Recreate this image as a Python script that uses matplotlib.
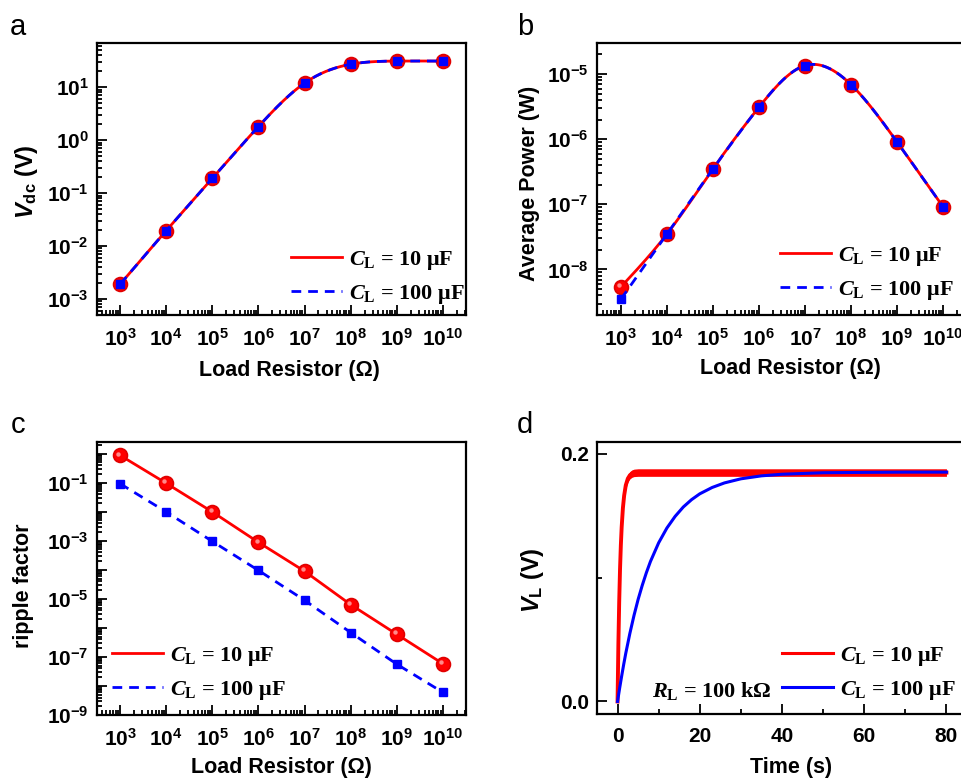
import numpy as np
import matplotlib
matplotlib.use("Agg")
import matplotlib.pyplot as plt
from matplotlib.lines import Line2D
from matplotlib.transforms import ScaledTranslation
from matplotlib.ticker import LogLocator, FixedLocator, NullFormatter, FuncFormatter, MultipleLocator, FormatStrFormatter

# ---------------- data ----------------
R_load = [1e3, 1e4, 1e5, 1e6, 1e7, 1e8, 1e9, 1e10]

vdc_10uF = [1.9e-3, 1.95e-2, 0.19, 1.8, 11.9, 27.0, 31.0, 31.0]
vdc_100uF = [1.9e-3, 1.95e-2, 0.19, 1.8, 11.9, 27.0, 31.0, 31.0]

power_10uF = [5.4e-9, 3.5e-8, 3.5e-7, 3.1e-6, 1.35e-5, 6.9e-6, 9.1e-7, 9.2e-8]
power_100uF = [3.5e-9, 3.5e-8, 3.5e-7, 3.1e-6, 1.35e-5, 6.9e-6, 9.1e-7, 9.2e-8]

ripple_10uF = [0.87, 0.095, 9.8e-3, 8.8e-4, 8.9e-5, 6.3e-6, 6.0e-7, 5.8e-8]
ripple_100uF = [0.092, 9.8e-3, 9.5e-4, 9.5e-5, 8.9e-6, 6.9e-7, 5.6e-8, 6.0e-9]

t_blue = [0, 0.5, 1, 1.5, 2, 3, 4, 5, 6, 7, 8, 10, 12, 14, 16, 18, 20, 23, 26, 30, 35, 40, 50, 60, 70, 80]
v_blue = [0, 0.0106, 0.0205, 0.030, 0.0389, 0.055, 0.0694, 0.0823, 0.0936, 0.1038, 0.1129, 0.128,
          0.1399, 0.1493, 0.1569, 0.1628, 0.1675, 0.1726, 0.1763, 0.1796, 0.182, 0.1833, 0.1845,
          0.1848, 0.185, 0.185]

t_red = [0, 0.2, 0.4, 0.6, 0.8, 1.0, 1.3, 1.6, 2.0, 2.5, 3.0, 3.5, 4, 5, 6, 80]
v_red_mid = [0, 0.046, 0.0805, 0.1066, 0.126, 0.1406, 0.156, 0.166, 0.1744, 0.1798, 0.1825,
             0.1838, 0.1844, 0.1846, 0.1846, 0.1846]
v_red_hi = [0.001, 0.049, 0.0835, 0.1096, 0.129, 0.1436, 0.159, 0.169, 0.1774, 0.1828, 0.1855,
            0.1868, 0.1874, 0.1877, 0.1877, 0.1877]
v_red_lo = [0, 0.043, 0.0775, 0.1036, 0.123, 0.1376, 0.153, 0.163, 0.1714, 0.1768, 0.1795,
            0.1808, 0.1814, 0.1816, 0.1816, 0.1816]

legend_labels = [r"$\mathit{C}_{\mathrm{L}}$ = 10 μF", r"$\mathit{C}_{\mathrm{L}}$ = 100 μF"]

# ---------------- style ----------------
plt.rcParams.update({
    "font.family": ["Liberation Sans", "DejaVu Sans"],
    "font.weight": "bold",
    "font.size": 15,
    "axes.labelweight": "bold",
    "axes.labelsize": 15.5,
    "xtick.labelsize": 15,
    "ytick.labelsize": 15,
    "mathtext.fontset": "custom",
    "mathtext.rm": "Liberation Serif:bold",
    "mathtext.it": "Liberation Serif:italic:bold",
    "mathtext.bf": "Liberation Sans:bold",
    "mathtext.sf": "Liberation Sans:italic:bold",
    "axes.linewidth": 1.6,
})

W, H = 961, 780
fig = plt.figure(figsize=(W / 100, H / 100), dpi=100)


def px_axes(l, t, r, b):
    return fig.add_axes([l / W, 1 - b / H, (r - l) / W, (b - t) / H])


def spline_log(xs, ys, n=400):
    x = np.log10(np.asarray(xs, float))
    y = np.log10(np.asarray(ys, float))
    m = len(x)
    h = np.diff(x)
    A = np.zeros((m, m))
    rhs = np.zeros(m)
    A[0, 0] = A[-1, -1] = 1
    for i in range(1, m - 1):
        A[i, i - 1] = h[i - 1]
        A[i, i] = 2 * (h[i - 1] + h[i])
        A[i, i + 1] = h[i]
        rhs[i] = 6 * ((y[i + 1] - y[i]) / h[i] - (y[i] - y[i - 1]) / h[i - 1])
    M = np.linalg.solve(A, rhs)
    xx = np.linspace(x[0], x[-1], n)
    idx = np.clip(np.searchsorted(x, xx) - 1, 0, m - 2)
    x0, x1 = x[idx], x[idx + 1]
    hh = x1 - x0
    a = (x1 - xx) / hh
    b = (xx - x0) / hh
    yy = a * y[idx] + b * y[idx + 1] + ((a ** 3 - a) * M[idx] + (b ** 3 - b) * M[idx + 1]) * hh ** 2 / 6
    return 10 ** xx, 10 ** yy


def log_ticks(ax, odd_only=False):
    for axis in (ax.xaxis, ax.yaxis):
        axis.set_major_locator(LogLocator(base=10, numticks=30))
        axis.set_minor_locator(LogLocator(base=10, subs=np.arange(2, 10), numticks=300))
        axis.set_minor_formatter(NullFormatter())
    if odd_only:
        def fmt(v, p):
            e = int(round(np.log10(v)))
            return r"$\mathdefault{10^{%d}}$" % e if e % 2 else ""
        ax.yaxis.set_major_formatter(FuncFormatter(fmt))


def style(ax):
    ax.tick_params(which="both", direction="in", top=False, right=False, width=1.3)
    ax.tick_params(which="major", length=7, pad=6)
    ax.tick_params(which="minor", length=3.5)
    ax.tick_params(axis="x", which="major", pad=9)


def legend(ax, handles, x_px, y_px):
    ax.legend(handles=handles, labels=legend_labels, loc="lower left",
              bbox_to_anchor=(x_px / W, 1 - y_px / H), bbox_transform=fig.transFigure,
              frameon=False, borderpad=0, borderaxespad=0, handlelength=2.3,
              handletextpad=0.3, labelspacing=0.5,
              prop={"family": "Liberation Serif", "weight": "bold", "size": 16})


red = "#ff0000"
blue = "#0000ff"
red_edge = "#e00000"
xlabel_txt = "Load Resistor (Ω)"


def red_balls(ax, x, y):
    ax.plot(x, y, "o", color=red, ms=10, mec=red_edge, mew=1.2)
    off = ax.transData + ScaledTranslation(-1.8 / 100, 1.8 / 100, fig.dpi_scale_trans)
    ax.plot(x, y, "o", color="#ff8a8a", ms=3.2, mew=0, transform=off)


# ---------------- panel a ----------------
ax = px_axes(97, 43, 466, 315)
ax.set_xscale("log")
ax.set_yscale("log")
xs, ys = spline_log(R_load, vdc_10uF)
l1, = ax.plot(xs, ys, color=red, lw=2)
red_balls(ax, R_load, vdc_10uF)
xs, ys = spline_log(R_load, vdc_100uF)
l2, = ax.plot(xs, ys, color=blue, lw=2, ls=(0, (3.5, 2.5)))
ax.plot(R_load, vdc_100uF, "s", color=blue, ms=6.3, mec=blue)
ax.set_xlim(10 ** 2.5, 10 ** 10.5)
ax.set_ylim(5e-4, 68)
log_ticks(ax)
style(ax)
ax.set_xlabel(xlabel_txt, va="center")
ax.xaxis.set_label_coords(0.522, -0.205)
ax.set_ylabel(r"$\mathsf{V}_{\mathbf{dc}}$ (V)", va="center", size=17)
ax.yaxis.set_label_coords(-0.19, 0.49)
legend(ax, [l1, l2], 291, 306)

# ---------------- panel b ----------------
ax = px_axes(597, 43, 966, 315)
ax.set_xscale("log")
ax.set_yscale("log")
xs, ys = spline_log(R_load, power_10uF)
l1, = ax.plot(xs, ys, color=red, lw=2)
red_balls(ax, R_load, power_10uF)
xs, ys = spline_log(R_load, power_100uF)
l2, = ax.plot(xs, ys, color=blue, lw=2, ls=(0, (3.5, 2.5)))
ax.plot(R_load, power_100uF, "s", color=blue, ms=6.3, mec=blue)
ax.set_xlim(10 ** 2.48, 10 ** 10.5)
ax.set_ylim(2e-9, 3e-5)
log_ticks(ax)
style(ax)
ax.set_xlabel(xlabel_txt, va="center")
ax.xaxis.set_label_coords(0.525, -0.196)
ax.set_ylabel("Average Power (W)", va="center")
ax.yaxis.set_label_coords(-0.1835, 0.485)
legend(ax, [l1, l2], 780, 302)

# ---------------- panel c ----------------
ax = px_axes(97, 442, 466, 715)
ax.set_xscale("log")
ax.set_yscale("log")
l1, = ax.plot(R_load, ripple_10uF, color=red, lw=2)
red_balls(ax, R_load, ripple_10uF)
l2, = ax.plot(R_load, ripple_100uF, color=blue, lw=2, ls=(0, (3.5, 2.5)))
ax.plot(R_load, ripple_100uF, "s", color=blue, ms=6.3, mec=blue)
ax.set_xlim(10 ** 2.5, 10 ** 10.5)
ax.set_ylim(1e-9, 2.5)
log_ticks(ax, odd_only=True)
style(ax)
ax.set_xlabel(xlabel_txt, va="center")
ax.xaxis.set_label_coords(0.4995, -0.193)
ax.set_ylabel("ripple factor", va="center")
ax.yaxis.set_label_coords(-0.199, 0.4726)
legend(ax, [l1, l2], 112, 702)

# ---------------- panel d ----------------
ax = px_axes(597, 442, 967, 714)
ax.fill_between(t_red, v_red_lo, v_red_hi, color=red, lw=0)
ax.plot(t_red, v_red_mid, color=red, lw=2.8)
ax.plot(t_blue, v_blue, color=blue, lw=2.2)
ax.set_xlim(-5, 85)
ax.set_ylim(-0.0101, 0.2093)
ax.xaxis.set_major_locator(MultipleLocator(20))
ax.xaxis.set_minor_locator(MultipleLocator(10))
ax.yaxis.set_major_locator(FixedLocator([0.0, 0.2]))
ax.yaxis.set_minor_locator(FixedLocator([0.1]))
ax.yaxis.set_major_formatter(FormatStrFormatter("%.1f"))
style(ax)
ax.set_xlabel("Time (s)", va="center")
ax.xaxis.set_label_coords(0.5235, -0.198)
ax.set_ylabel(r"$\mathsf{V}_{\mathbf{L}}$ (V)", va="center", size=17)
ax.yaxis.set_label_coords(-0.174, 0.49)
h1 = Line2D([], [], color=red, lw=2.2)
h2 = Line2D([], [], color=blue, lw=2.2)
legend(ax, [h1, h2], 782, 702)
fig.text(652 / W, 1 - 697 / H, r"$\mathit{R}_{\mathrm{L}}$ = 100 kΩ", family="Liberation Serif",
         weight="bold", size=16, va="baseline", ha="left")

# ---------------- panel letters ----------------
for letter, x, y in [("a", 10, 35), ("b", 517, 35), ("c", 11, 433), ("d", 517, 433)]:
    fig.text(x / W, 1 - y / H, letter, size=21, weight="normal", va="baseline", ha="left")

fig.savefig("out.png", dpi=100, facecolor="white")
